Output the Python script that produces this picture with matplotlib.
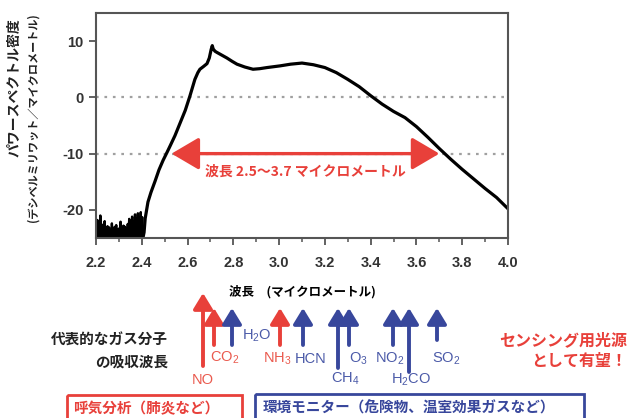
import numpy as np
import matplotlib
matplotlib.use("Agg")
import matplotlib.pyplot as plt
from matplotlib.patches import Rectangle
from matplotlib.ticker import MultipleLocator

plt.rcParams['font.family'] = ['Noto Sans CJK JP', 'DejaVu Sans']
plt.rcParams['axes.unicode_minus'] = False
plt.rcParams['mathtext.fontset'] = 'custom'
plt.rcParams['mathtext.rm'] = 'Liberation Sans'
plt.rcParams['mathtext.it'] = 'Liberation Sans'
plt.rcParams['mathtext.bf'] = 'Liberation Sans:bold'

# --- spectrum ---
# noisy floor below the cut-on, 2.200 .. 2.405 um
floor_y = [-22.5, -25, -21.8, -24.6, -23.2, -25, -21.0, -24.8, -22.6, -25, -23.4, -24.2,
           -22.0, -25, -23.8, -24.9, -22.9, -25, -23.1, -24.5, -23.6, -25, -22.4, -24.8,
           -23.9, -25, -23.0, -24.6, -22.7, -25, -23.5, -24.7, -23.3, -25, -22.1, -24.9,
           -23.7, -25, -22.8, -24.4, -23.0, -25, -23.9, -24.6, -22.5, -25, -21.6, -24.8,
           -23.4, -25, -21.2, -24.9, -22.0, -25, -20.8, -24.7, -21.5, -25, -20.6, -24.5,
           -21.9, -25, -20.4, -24.8, -21.3, -25]
floor_x = np.linspace(2.20, 2.405, len(floor_y))

wl = [2.410, 2.415, 2.427, 2.440, 2.458, 2.475, 2.493, 2.510, 2.523, 2.545, 2.567, 2.590,
      2.610, 2.632, 2.645, 2.654, 2.670, 2.685, 2.695, 2.703, 2.708, 2.712, 2.720, 2.728,
      2.750, 2.772, 2.795, 2.816, 2.850, 2.886, 2.915, 2.947, 3.004, 3.050, 3.100, 3.150,
      3.200, 3.250, 3.300, 3.350, 3.400, 3.450, 3.500, 3.550, 3.600, 3.650, 3.700, 3.750,
      3.800, 3.850, 3.900, 3.950, 4.000]
power = [-24.0, -21.5, -18.6, -16.9, -14.9, -12.9, -11.2, -9.8, -8.7, -6.8, -4.6, -2.3,
         0.2, 3.2, 4.4, 5.0, 5.5, 6.0, 7.0, 8.5, 9.2, 8.6, 8.2, 8.0,
         7.5, 7.0, 6.4, 5.9, 5.4, 5.0, 5.1, 5.3, 5.6, 5.9, 6.1, 5.8,
         5.3, 4.4, 3.2, 1.9, 0.3, -1.2, -2.5, -3.6, -5.2, -7.1, -9.1, -11.0,
         -12.8, -14.5, -16.2, -17.8, -19.8]

band = (2.53, 3.70)
band_text = '波長 2.5～3.7 マイクロメートル'

# --- absorption lines of representative gases ---
gas_names = ['NO', 'CO$_2$', 'H$_2$O', 'NH$_3$', 'HCN', 'CH$_4$', 'O$_3$', 'NO$_2$', 'H$_2$CO', 'SO$_2$']
gas_use = ['breath', 'breath', 'env', 'breath', 'env', 'env', 'env', 'env', 'env', 'env']

RED = '#e8403a'
BLUE = '#38479c'
use_color = {'breath': RED, 'env': BLUE}
label_color = {'breath': '#ea5a4e', 'env': '#4b5aa8'}

# layout of the lower sketch, in pixels (x, arrow tip y, arrow foot y, label x, label y)
arrow_x = [203, 214, 232, 280, 303, 338, 349, 393, 409, 437]
tip_y = [293, 308, 308, 308, 308, 308, 308, 308, 308, 308]
foot_y = [366, 345, 345, 345, 345, 368, 345, 345, 372, 340]
lab_x = [203, 225, 257, 277, 311, 345, 358, 390, 411, 446]
lab_y = [380, 358, 336, 359, 359, 379, 359, 359, 380, 359]

fig = plt.figure(figsize=(6.33, 4.18), dpi=100)
W, H = 633, 418
ax = fig.add_axes([96 / W, 1 - 238 / H, (508 - 96) / W, (238 - 13) / H])

ax.fill_between(floor_x, floor_y, -25, color='black', lw=0)
ax.plot(floor_x, floor_y, color='black', lw=1.7)
ax.plot([floor_x[-1]] + wl, [floor_y[-1]] + power, color='black', lw=2.3, solid_joinstyle='round')

for yv in (0, -10):
    ax.axhline(yv, color='#a0a0a0', lw=1.6, dashes=(1.2, 2.6), zorder=0)

ax.annotate('', xy=(band[0], -10), xytext=(band[1], -10),
            arrowprops=dict(arrowstyle='<|-|>,head_length=0.85,head_width=0.5',
                            color=RED, lw=2.4, mutation_scale=20, shrinkA=0, shrinkB=0))
ax.text(np.mean(band), -13.2, band_text, color=RED, fontsize=10, fontweight='bold',
        ha='center', va='center')

ax.set_xlim(2.2, 4.0)
ax.set_ylim(-25, 15)
ax.xaxis.set_major_locator(MultipleLocator(0.2))
ax.xaxis.set_minor_locator(MultipleLocator(0.1))
ax.set_yticks([10, 0, -10, -20])
ax.xaxis.set_major_formatter(matplotlib.ticker.FormatStrFormatter('%.1f'))
for s in ax.spines.values():
    s.set_color('#555555')
    s.set_linewidth(1.5)
ax.tick_params(which='major', direction='out', length=5, width=1.3, color='#555555',
               labelcolor='#333333', labelsize=10.5)
ax.tick_params(which='minor', direction='out', length=3, width=1.1, color='#555555')
ax.tick_params(axis='x', pad=8)
ax.tick_params(axis='y', pad=4)
for lab in ax.get_xticklabels() + ax.get_yticklabels():
    lab.set_fontfamily('Liberation Sans')
    lab.set_fontweight('bold')

ax.set_xlabel('波長　(マイクロメートル)', fontsize=9, fontweight='bold', labelpad=11)

# overlay in pixel coordinates for the sketch below the chart
lay = fig.add_axes([0, 0, 1, 1])
lay.set_xlim(0, W)
lay.set_ylim(H, 0)
lay.axis('off')
lay.patch.set_alpha(0)

lay.text(15, 18, 'パワースペクトル密度', rotation=90, fontsize=10, fontweight='bold',
         ha='center', va='top', color='#222222')
lay.text(33, 13, '(デシベルミリワット／マイクロメートル)', rotation=90, fontsize=8, fontweight='bold',
         ha='center', va='top', color='#222222')

for i, name in enumerate(gas_names):
    c = use_color[gas_use[i]]
    lay.annotate('', xy=(arrow_x[i], tip_y[i]), xytext=(arrow_x[i], foot_y[i]),
                 arrowprops=dict(arrowstyle='-|>,head_length=0.95,head_width=0.58',
                                 color=c, lw=2.8, mutation_scale=10, shrinkA=0, shrinkB=0))
    lay.text(lab_x[i], lab_y[i], name, color=label_color[gas_use[i]], fontsize=10.5,
             family='Liberation Sans', ha='center', va='center')

lay.text(168, 340, '代表的なガス分子', fontsize=10.5, fontweight='bold', ha='right', va='center',
         color='#222222')
lay.text(168, 362, 'の吸収波長', fontsize=10.5, fontweight='bold', ha='right', va='center',
         color='#222222')
lay.text(627, 340, 'センシング用光源', fontsize=11.5, fontweight='bold', ha='right', va='center',
         color=RED)
lay.text(627, 361, 'として有望！', fontsize=11.5, fontweight='bold', ha='right', va='center',
         color=RED)

lay.add_patch(Rectangle((67, 395), 242 - 67, 40, fill=False, ec=RED, lw=2))
lay.add_patch(Rectangle((255, 394), 584 - 255, 40, fill=False, ec=BLUE, lw=2))
lay.text(73, 408, '呼気分析（肺炎など）', color=RED, fontsize=10.5, fontweight='bold',
         ha='left', va='center')
lay.text(263, 408, '環境モニター（危険物、温室効果ガスなど）', color=BLUE, fontsize=10.5,
         fontweight='bold', ha='left', va='center')

fig.savefig('out.png', dpi=100)
